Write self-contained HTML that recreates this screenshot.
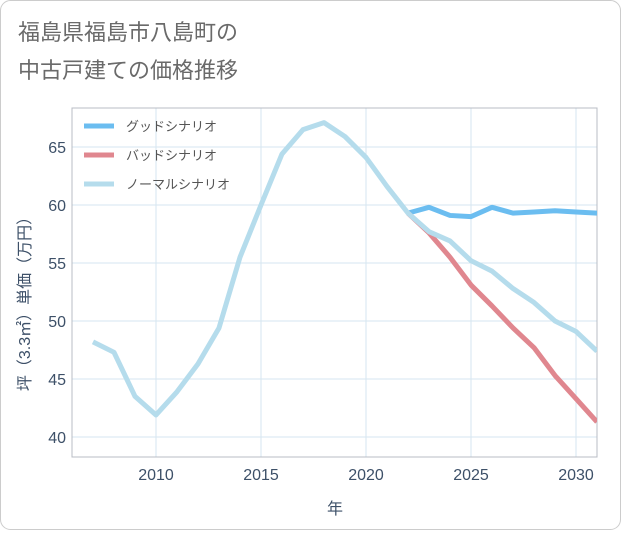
<!DOCTYPE html>
<html><head><meta charset="utf-8">
<style>
body{margin:0;background:#fff;}
#wrap{position:relative;width:621px;height:530px;font-family:"Liberation Sans","Noto Sans CJK JP",sans-serif;}
svg text{font-family:"Liberation Sans","Noto Sans CJK JP",sans-serif;}
</style></head>
<body>
<div id="wrap">
<svg id="chart" width="621" height="530">
<rect x="0.5" y="0.5" width="620" height="529" rx="10" fill="#fff" stroke="#ccc"/>
<text x="18" y="40" font-size="22" fill="#6a6a6a">福島県福島市八島町の</text>
<text x="18" y="78" font-size="22" fill="#6a6a6a">中古戸建ての価格推移</text>
<g id="grid"></g>
<rect x="72" y="108" width="525" height="349" fill="none" stroke="#b8bcc4"/>
<g id="series"></g>
<g id="ticks"></g>
<text x="335" y="514" font-size="16" fill="#3d5068" text-anchor="middle">年</text>
<text transform="translate(30,300) rotate(-90)" font-size="16" fill="#3d5068" text-anchor="middle">坪（3.3㎡）単価（万円）</text>
<g>
<line x1="84" y1="126" x2="114" y2="126" stroke="#6bbdf0" stroke-width="5"/>
<text x="126" y="131" font-size="13" fill="#555">グッドシナリオ</text>
<line x1="84" y1="155" x2="114" y2="155" stroke="#e0878f" stroke-width="5"/>
<text x="126" y="160" font-size="13" fill="#555">バッドシナリオ</text>
<line x1="84" y1="184" x2="114" y2="184" stroke="#b5dcec" stroke-width="5"/>
<text x="126" y="189" font-size="13" fill="#555">ノーマルシナリオ</text>
</g>
</svg>
</div>
<script>
const normalYears=[2007,2008,2009,2010,2011,2012,2013,2014,2015,2016,2017,2018,2019,2020,2021,2022,2023,2024,2025,2026,2027,2028,2029,2030,2031];
const normalValues=[48.2,47.3,43.5,41.9,43.9,46.3,49.4,55.5,60.0,64.4,66.5,67.1,65.9,64.1,61.6,59.3,57.7,56.9,55.2,54.3,52.8,51.6,50.0,49.1,47.4];
const scenarioYears=[2022,2023,2024,2025,2026,2027,2028,2029,2030,2031];
const goodValues=[59.3,59.8,59.1,59.0,59.8,59.3,59.4,59.5,59.4,59.3];
const badValues=[59.3,57.6,55.5,53.1,51.3,49.4,47.7,45.3,43.3,41.3];
const xTicks=[2010,2015,2020,2025,2030];
const yTicks=[40,45,50,55,60,65];
const NS='http://www.w3.org/2000/svg';
const X0=72,X1=597,Y0=108,Y1=457;
function xs(y){return 156+(y-2010)*21;}
function ys(v){return 437-(v-40)*11.6;}
const grid=document.getElementById('grid'),ticks=document.getElementById('ticks'),series=document.getElementById('series');
xTicks.forEach(t=>{
 const l=document.createElementNS(NS,'line');
 l.setAttribute('x1',xs(t));l.setAttribute('x2',xs(t));l.setAttribute('y1',Y0);l.setAttribute('y2',Y1);
 l.setAttribute('stroke','#d5e6f0');
 
 
 grid.appendChild(l);
 const tx=document.createElementNS(NS,'text');
 tx.setAttribute('x',xs(t));tx.setAttribute('y',Y1+23);tx.setAttribute('font-size','16');tx.setAttribute('fill','#3d5068');tx.setAttribute('text-anchor','middle');
 tx.textContent=t;
 
 
 ticks.appendChild(tx);
});
yTicks.forEach(t=>{
 const l=document.createElementNS(NS,'line');
 l.setAttribute('x1',X0);l.setAttribute('x2',X1);l.setAttribute('y1',ys(t));l.setAttribute('y2',ys(t));
 l.setAttribute('stroke','#d5e6f0');
 
 
 grid.appendChild(l);
 const tx=document.createElementNS(NS,'text');
 tx.setAttribute('x',X0-6);tx.setAttribute('y',ys(t)+6);tx.setAttribute('font-size','16');tx.setAttribute('fill','#3d5068');tx.setAttribute('text-anchor','end');
 tx.textContent=t;
 
 
 ticks.appendChild(tx);
});
const clip=document.createElementNS(NS,'clipPath');clip.setAttribute('id','pc');
const cr=document.createElementNS(NS,'rect');cr.setAttribute('x',X0);cr.setAttribute('y',Y0);cr.setAttribute('width',X1-X0);cr.setAttribute('height',Y1-Y0);
clip.appendChild(cr);document.getElementById('chart').appendChild(clip);
series.setAttribute('clip-path','url(#pc)');
function draw(yrs,vals,color,name){
 const p=document.createElementNS(NS,'polyline');
 p.setAttribute('points',yrs.map((y,i)=>xs(y)+','+ys(vals[i])).join(' '));
 p.setAttribute('fill','none');p.setAttribute('stroke',color);p.setAttribute('stroke-width','5');p.setAttribute('stroke-linejoin','round');
 
 
 series.appendChild(p);
}
draw(scenarioYears,goodValues,'#6bbdf0','good-scenario-line');
draw(scenarioYears,badValues,'#e0878f','bad-scenario-line');
draw(normalYears,normalValues,'#b5dcec','normal-scenario-line');
</script>
</body></html>
